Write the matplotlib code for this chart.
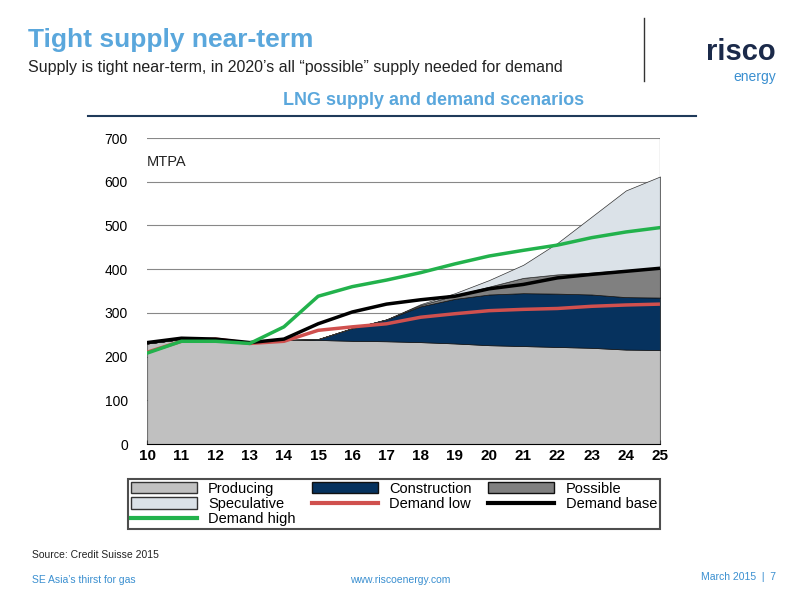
import matplotlib.pyplot as plt
import numpy as np
from matplotlib.patches import Patch
from matplotlib.lines import Line2D

years = list(range(10, 26))
producing = [230, 240, 240, 232, 238, 238, 236, 235, 233, 230, 226, 224, 222, 220, 216, 215]
construction_top = [230, 240, 240, 232, 238, 240, 265, 285, 315, 332, 342, 345, 344, 342, 336, 335]
possible_top = [230, 240, 240, 232, 238, 240, 265, 285, 318, 340, 360, 380, 388, 392, 398, 402]
speculative_top = [230, 240, 240, 232, 238, 240, 265, 285, 320, 345, 375, 410, 460, 520, 580, 612]
demand_low = [210, 235, 240, 230, 235, 260, 268, 275, 290, 298, 305, 308, 310, 315, 318, 320]
demand_base = [232, 242, 240, 232, 240, 275, 302, 320, 330, 338, 355, 365, 380, 388, 395, 402]
demand_high = [208, 235, 235, 230, 268, 338, 360, 375, 392, 412, 430, 443, 455, 472, 485, 495]

plt.rcParams['font.family'] = ['Liberation Sans', 'DejaVu Sans']
fig = plt.figure(figsize=(8, 6), dpi=100)

# header
fig.text(0.035, 0.913, 'Tight supply near-term', color='#5aa7dc', fontsize=19, fontweight='bold', va='bottom')
fig.text(0.035, 0.88, 'Supply is tight near-term, in 2020\u2019s all \u201cpossible\u201d supply needed for demand', color='#222222', fontsize=11.5)
fig.text(0.73, 0.825, 'LNG supply and demand scenarios', color='#5aa7dc', fontsize=13, fontweight='bold', ha='right')
fig.add_artist(Line2D([0.11, 0.87], [0.807, 0.807], color='#1f3a5a', lw=1.5))
fig.add_artist(Line2D([0.805, 0.805], [0.865, 0.97], color='#333333', lw=1))
fig.text(0.97, 0.9, 'risco', color='#1b2a4a', fontsize=21, fontweight='bold', ha='right')
fig.text(0.97, 0.865, 'energy', color='#3a8fd0', fontsize=10, ha='right')

ax = fig.add_axes([0.184, 0.26, 0.641, 0.51])
x = np.array(years)
ax.fill_between(x, 0, producing, color='#c0c0c0', edgecolor='#333333', lw=0.5)
ax.fill_between(x, producing, construction_top, color='#06325e', edgecolor='#111111', lw=0.5)
ax.fill_between(x, construction_top, possible_top, color='#808080', edgecolor='#111111', lw=0.5)
ax.fill_between(x, possible_top, speculative_top, color='#dbe2e8', edgecolor='#333333', lw=0.5)
ax.plot(x, demand_low, color='#d0504e', lw=2.5)
ax.plot(x, demand_base, color='#000000', lw=2.5)
ax.plot(x, demand_high, color='#22b24c', lw=2.5)

ax.set_xlim(10, 25)
ax.set_ylim(0, 700)
ax.set_yticks(range(0, 701, 100))
ax.set_xticks(years)
ax.set_xticklabels([str(y) for y in years], fontweight='bold', fontsize=11)
ax.tick_params(axis='y', labelsize=10, length=0, pad=14)
ax.tick_params(axis='x', length=3, direction='in')
ax.grid(axis='y', color='#888888', lw=0.8)
ax.set_axisbelow(True)
for s in ['top', 'right', 'left']:
    ax.spines[s].set_visible(False)
ax.axvline(25, color='#333333', lw=0.8)
ax.text(10, 645, 'MTPA', fontsize=10.5, va='center', ha='left', color='#222222')

# legend (column-major order to get the reference's row layout)
h = {
    'Producing': Patch(fc='#c0c0c0', ec='#333333'),
    'Construction': Patch(fc='#06325e', ec='#111111'),
    'Possible': Patch(fc='#808080', ec='#111111'),
    'Speculative': Patch(fc='#dbe2e8', ec='#333333'),
    'Demand low': Line2D([], [], color='#d0504e', lw=3),
    'Demand base': Line2D([], [], color='#000000', lw=3),
    'Demand high': Line2D([], [], color='#22b24c', lw=3),
}
order = ['Producing', 'Speculative', 'Demand high', 'Construction', 'Demand low', 'Possible', 'Demand base']
leg = fig.legend([h[k] for k in order], order, loc='center', bbox_to_anchor=(0.16, 0.117, 0.665, 0.086), mode='expand',
                 ncol=3, frameon=True, fancybox=False, fontsize=10.5, handlelength=4.5, borderaxespad=0,
                 labelspacing=0.1, handleheight=0.8, borderpad=0.2)
leg.get_frame().set_edgecolor('#222222')
leg.get_frame().set_linewidth(1.5)

fig.text(0.04, 0.07, 'Source: Credit Suisse 2015', fontsize=7.5, color='#222222')
fig.text(0.04, 0.028, 'SE Asia\u2019s thirst for gas', fontsize=7.5, color='#3a8fd0')
fig.text(0.5, 0.028, 'www.riscoenergy.com', fontsize=7.5, color='#3a8fd0', ha='center')
fig.text(0.97, 0.033, 'March 2015  |  7', fontsize=7.5, color='#3a8fd0', ha='right')

fig.savefig('out.png', dpi=100)
